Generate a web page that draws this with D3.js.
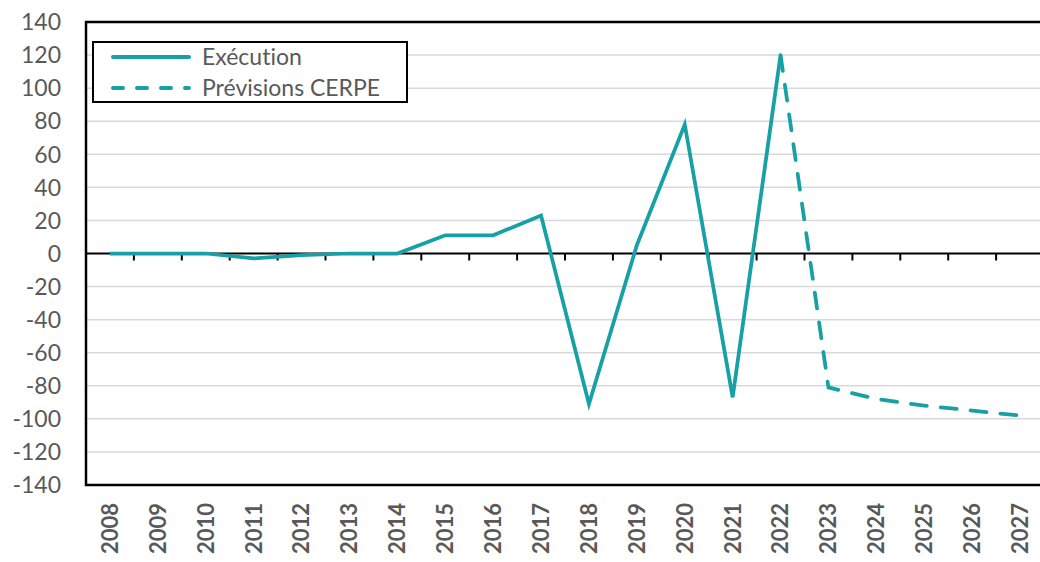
<!DOCTYPE html>
<html>
<head>
<meta charset="utf-8">
<script src="https://cdn.jsdelivr.net/npm/d3@7"></script>
<style>
  body { margin: 0; background: #fff; }
  svg { display: block; }
  text { font-variant-ligatures: none; font-family: Lato, 'Open Sans', sans-serif; }
</style>
</head>
<body>
<div id="chart"></div>
<script>
const years = ["2008","2009","2010","2011","2012","2013","2014","2015","2016","2017",
               "2018","2019","2020","2021","2022","2023","2024","2025","2026","2027"];
const execYears = ["2008","2009","2010","2011","2012","2013","2014","2015","2016","2017",
                   "2018","2019","2020","2021","2022"];
const execValues = [0, 0, 0, -3, -1, 0, 0, 11, 11, 23, -91, 5, 78, -87, 120];
const prevYears = ["2022","2023","2024","2025","2026","2027"];
const prevValues = [120, -81, -88, -92, -95, -98];
const yTicks = [140,120,100,80,60,40,20,0,-20,-40,-60,-80,-100,-120,-140];

const W = 1040, H = 562;
const plotLeft = 86, plotTop = 22, plotRight = 1044, plotBottom = 485;
const teal = "#17A1A5";
const grey = "#595959";

var svg = d3.select("#chart").append("svg")
  .attr("width", W).attr("height", H);

var x = d3.scaleBand().domain(years).range([plotLeft, plotRight]);
var y = d3.scaleLinear().domain([-140, 140]).range([plotBottom, plotTop]);

// gridlines
svg.append("g").selectAll("line")
  .data(yTicks.filter(d => d !== 0 && Math.abs(d) !== 140))
  .join("line")
  .attr("x1", plotLeft).attr("x2", plotRight)
  .attr("y1", d => y(d)).attr("y2", d => y(d))
  .attr("stroke", "#D9D9D9").attr("stroke-width", 1.5);

// y labels
svg.append("g").selectAll("text")
  .data(yTicks).join("text")
  .attr("x", 61).attr("y", d => y(d))
  .attr("dy", "0.36em")
  .attr("text-anchor", "end")
  .attr("fill", grey)
  .attr("font-size", 23)
  .text(d => d);

// zero axis with ticks at category boundaries
svg.append("line")
  .attr("x1", plotLeft).attr("x2", plotRight)
  .attr("y1", y(0)).attr("y2", y(0))
  .attr("stroke", "#000").attr("stroke-width", 2);
svg.append("g").selectAll("line")
  .data(years.slice(1)).join("line")
  .attr("x1", d => x(d)).attr("x2", d => x(d))
  .attr("y1", y(0)).attr("y2", y(0) + 7)
  .attr("stroke", "#000").attr("stroke-width", 2);

// x labels (rotated)
svg.append("g").selectAll("text")
  .data(years).join("text")
  .attr("transform", d => "translate(" + (x(d) + x.bandwidth() / 2) + ",503) rotate(-90)")
  .attr("dy", "0.36em")
  .attr("text-anchor", "end")
  .attr("fill", grey)
  .attr("font-weight", "bold")
  .attr("font-size", 22)
  .text(d => d);

// lines
var line = d3.line()
  .x(d => x(d[0]) + x.bandwidth() / 2)
  .y(d => y(d[1]));

svg.append("path")
  .datum(execYears.map((d, i) => [d, execValues[i]]))
  .attr("d", line)
  .attr("fill", "none")
  .attr("stroke", teal).attr("stroke-width", 3.75)
  .attr("stroke-linejoin", "miter");

svg.append("path")
  .datum(prevYears.map((d, i) => [d, prevValues[i]]))
  .attr("d", line)
  .attr("fill", "none")
  .attr("stroke", teal).attr("stroke-width", 3.75)
  .attr("stroke-dasharray", "16,14")
  .attr("stroke-linecap", "round");

// plot border
svg.append("rect")
  .attr("x", plotLeft).attr("y", plotTop)
  .attr("width", plotRight - plotLeft).attr("height", plotBottom - plotTop)
  .attr("fill", "none").attr("stroke", "#000").attr("stroke-width", 2.5);

// legend
var legend = svg.append("g");
legend.append("rect")
  .attr("x", 93).attr("y", 42).attr("width", 314).attr("height", 60)
  .attr("fill", "#fff").attr("stroke", "#000").attr("stroke-width", 2);
var items = [
  { label: "Exécution", dash: null, cy: 57 },
  { label: "Prévisions CERPE", dash: "10,14", cy: 88 }
];
items.forEach(function (it) {
  legend.append("line")
    .attr("x1", 113).attr("x2", 189)
    .attr("y1", it.cy).attr("y2", it.cy)
    .attr("stroke", teal).attr("stroke-width", 4)
    .attr("stroke-linecap", "round")
    .attr("stroke-dasharray", it.dash);
  legend.append("text")
    .attr("x", 202).attr("y", it.cy)
    .attr("dy", "0.36em")
    .attr("fill", grey)
    .attr("font-size", 23)
    .text(it.label);
});
</script>
</body>
</html>
